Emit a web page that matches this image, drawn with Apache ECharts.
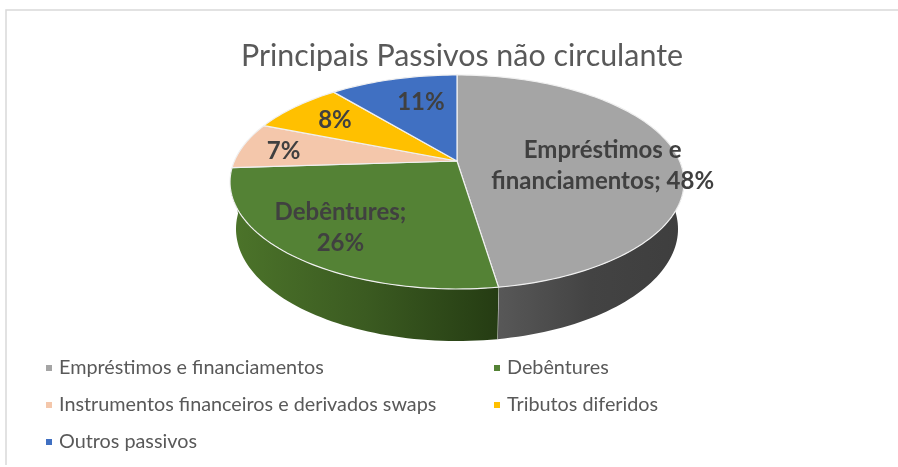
<!DOCTYPE html>
<html>
<head>
<meta charset="utf-8">
<style>
  html, body { margin: 0; padding: 0; background: #fff; }
  #chart { width: 898px; height: 467px; }
</style>
<script src="https://cdn.jsdelivr.net/npm/echarts@6/dist/echarts.min.js"></script>
</head>
<body>
<div id="chart"></div>
<script>
const categories = ['Empréstimos e financiamentos', 'Debêntures', 'Instrumentos financeiros e derivados swaps', 'Tributos diferidos', 'Outros passivos']
const values = [47.6, 26.4, 7, 8, 11]
const labelNames = ['Empréstimos e\nfinanciamentos', 'Debêntures;\n', '', '', '']

const colors = ['#a5a5a5', '#548235', '#f4c7ab', '#ffc000', '#4070c2']
const wallColors = [
  ['#585858', '#434343', '#3e3e3e'],
  ['#4c742a', '#3b5b21', '#253c13'],
  null, null, null
]
// posicao dos rotulos em coordenadas do disco
const labelRadius = [0.65, 0.74, 0.8, 0.735, 0.67]
const labelShift = [8.6, 0, -2, 0, 4]

// disco em perspectiva
const apexX = 457, apexY = 161
const halfW = 222.6, halfH = 102.9, tilt = 0.196
const midY = 182, lowerMidY = 229
const lowerScaleX = 0.9736, lowerScaleY = 1.047

const total = values.reduce((a, b) => a + b, 0)

const project = (deg, r) => {
  const t = deg * Math.PI / 180
  const u = Math.sin(t) * r
  const v = -Math.cos(t) * r
  const d = 1 - tilt * v
  return [apexX + halfW * u / d, apexY + halfH * v / d]
}
const lower = p => [apexX + lowerScaleX * (p[0] - apexX), lowerMidY + lowerScaleY * (p[1] - midY)]

const arc = (from, to) => {
  const pts = []
  const n = Math.max(2, Math.ceil(Math.abs(to - from) / 1.5))
  for (let i = 0; i <= n; i++) pts.push(project(from + (to - from) * i / n, 1))
  return pts
}

const renderSlice = idx => (params, api) => {
  const before = values.slice(0, idx).reduce((a, b) => a + b, 0)
  const start = before / total * 360
  const end = (before + values[idx]) / total * 360
  const children = []

  if (wallColors[idx]) {
    const from = Math.max(start, 70)
    const to = Math.min(end, 280)
    const rim = arc(from, to)
    const stops = wallColors[idx]
    children.push({
      type: 'polygon',
      shape: { points: rim.concat(rim.map(lower).reverse()) },
      style: {
        fill: new echarts.graphic.LinearGradient(0, 0, 1, 0, [
          { offset: 0, color: stops[0] },
          { offset: 0.5, color: stops[1] },
          { offset: 1, color: stops[2] }
        ])
      }
    })
    if (idx === 0) {
      children.push({
        type: 'polyline',
        shape: { points: [rim[rim.length - 1], lower(rim[rim.length - 1])] },
        style: { stroke: '#e4e4e4', lineWidth: 1, fill: 'none' }
      })
    }
  }

  children.push({
    type: 'polygon',
    shape: { points: [[apexX, apexY]].concat(arc(start, end)) },
    style: { fill: colors[idx], stroke: '#f0f0f0', lineWidth: 1.2, lineJoin: 'round' }
  })

  const mid = (start + end) / 2 + labelShift[idx]
  const pos = project(mid, labelRadius[idx])
  const pct = Math.round(api.value(0) / total * 100) + '%'
  const name = labelNames[idx]
  const text = name ? (name.endsWith('\n') ? name + pct : name + '; ' + pct) : pct
  children.push({
    type: 'text',
    z2: 10,
    style: {
      x: pos[0], y: pos[1],
      text,
      align: 'center',
      verticalAlign: 'middle',
      fill: '#404040',
      font: 'bold 24px Lato',
      lineHeight: 31
    }
  })
  return { type: 'group', children }
}

const chart = echarts.init(document.getElementById('chart'), null, { renderer: 'canvas' })

const legendBase = {
  orient: 'vertical',
  itemWidth: 6,
  itemHeight: 6,
  itemGap: 17,
  icon: 'rect',
  padding: 0,
  selectedMode: false,
  textStyle: { fontFamily: 'Lato', fontSize: 19.8, color: '#595959', padding: [0, 0, 0, 2], height: 20, lineHeight: 20 }
}

chart.setOption({
  animation: false,
  backgroundColor: '#fff',
  title: {
    text: 'Principais Passivos não circulante',
    left: 457,
    top: 36,
    textAlign: 'center',
    textVerticalAlign: 'top',
    textStyle: { fontFamily: 'Lato', fontSize: 30.4, fontWeight: 'normal', color: '#595959' }
  },
  legend: [
    Object.assign({}, legendBase, { left: 46, top: 358, data: [categories[0], categories[2], categories[4]] }),
    Object.assign({}, legendBase, { left: 494, top: 358, data: [categories[1], categories[3]] })
  ],
  graphic: [{
    type: 'polyline',
    silent: true,
    shape: { points: [[6, 465], [6, 10], [898, 10]] },
    style: { stroke: '#d9d9d9', lineWidth: 1.5, fill: 'none' }
  }],
  series: categories.map((name, i) => ({
    type: 'custom',
    name,
    coordinateSystem: 'none',
    itemStyle: { color: colors[i] },
    renderItem: renderSlice(i),
    encode: { value: 0 },
    data: [[values[i]]]
  }))
})
</script>
</body>
</html>
